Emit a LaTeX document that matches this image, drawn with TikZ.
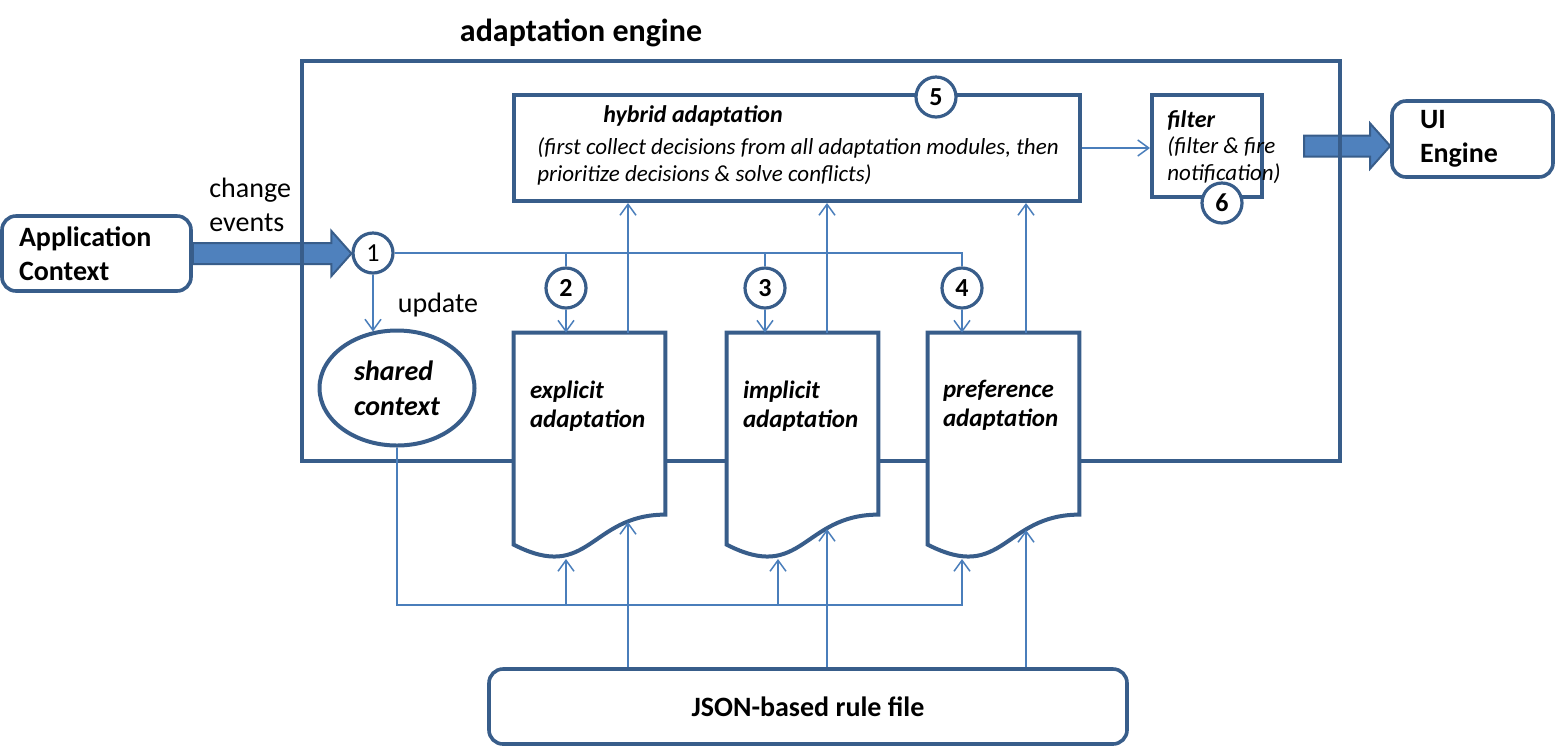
\documentclass[tikz,border=0pt]{standalone}
\usepackage{fontspec}
\setmainfont{Carlito}
\usetikzlibrary{arrows.meta,calc,shapes.geometric}

\definecolor{frameblue}{RGB}{56,93,138}
\definecolor{lineblue}{RGB}{74,126,187}
\definecolor{fillblue}{RGB}{79,129,189}

\tikzset{
	box/.style={draw=frameblue, line width=2pt, fill=white, inner sep=0pt},
	rbox/.style={box, line width=1.8pt, rounded corners=7pt},
	num/.style={circle, draw=frameblue, line width=1.6pt, fill=white, minimum size=20pt, inner sep=0pt, font=\fontsize{13pt}{15pt}\selectfont\bfseries},
	link/.style={draw=lineblue, line width=0.75pt, -{Straight Barb[length=5.5pt,width=8pt]}},
	wire/.style={draw=lineblue, line width=0.75pt},
	fat/.style={draw=frameblue, line width=1pt, fill=fillblue, line join=miter},
	docnode/.style={minimum width=75.5pt, minimum height=113.5pt, inner sep=0pt},
	big/.style={font=\fontsize{14pt}{17pt}\selectfont\bfseries},
	plain/.style={font=\fontsize{14pt}{17pt}\selectfont, inner sep=0pt},
	doctext/.style={font=\fontsize{12.5pt}{14.5pt}\selectfont\bfseries\itshape, align=left, inner sep=0pt},
	smalltext/.style={font=\fontsize{11.5pt}{13.5pt}\selectfont\itshape, align=left, inner sep=0pt},
	boxtitle/.style={font=\fontsize{12pt}{14pt}\selectfont\bfseries\itshape, inner sep=0pt}
}

\newcommand{\fatarrow}[2]{%
	\draw[fat] ($(#1)+(0,-10.5)$) -- ($(#2)+(-20,-10.5)$) -- ($(#2)+(-20,-22.5)$) -- (#2)
		-- ($(#2)+(-20,22.5)$) -- ($(#2)+(-20,10.5)$) -- ($(#1)+(0,10.5)$) -- cycle;}

\newcommand{\docpath}[1]{%
	\draw[box] (#1.north west) -- (#1.north east) -- ($(#1.north east)+(0,182)$)
		.. controls ($(#1.north)+(0,182)$) and ($(#1.north)+(0,251)$) .. ($(#1.north west)+(0,212)$) -- cycle;}

\begin{document}
\begin{tikzpicture}[x=0.5pt,y=-0.5pt]
	\useasboundingbox (0,0) rectangle (1557,746);

	\node[rbox, minimum width=94.5pt, minimum height=37.5pt, text width=77.5pt, align=left, big] (app) at (96.5,253.5) {Application\\Context};
	\node[rbox, minimum width=80.5pt, minimum height=38pt, text width=52.5pt, align=left, big] (ui) at (1472.5,139) {UI\\Engine};
	\node[box, minimum width=55pt, minimum height=51pt] (filter) at (1207,146) {};
	\node[num, font=\fontsize{13pt}{15pt}\selectfont] (n1) at (373,253) {1};

	\coordinate (tip1) at (n1.west |- app.east);
	\fatarrow{app.east}{tip1}
	\coordinate (tail2) at ($(filter.east)+(40,0)$);
	\coordinate (tip2) at (ui.west |- tail2);
	\fatarrow{tail2}{tip2}

	\draw[frameblue, line width=2pt] (302,61) rectangle (1340,461);
	\node[font=\fontsize{16pt}{19pt}\selectfont\bfseries] (title) at (581,33) {adaptation engine};
	\node[plain, anchor=west, align=left] (events) at (209,205) {change\\events};
	\node[plain] (upd) at (438,305) {update};

	\node[box, minimum width=283pt, minimum height=53pt] (hyb) at (797,148) {};
	\node[boxtitle, anchor=west] (hybtitle) at (603,116) {hybrid adaptation};
	\node[smalltext, anchor=west] (hybtext) at (537,161) {(first collect decisions from all adaptation modules, then\\prioritize decisions \& solve conflicts)};
	\node[num] (n5) at (936,97) {5};

	\node[boxtitle, anchor=west] (filtitle) at (1167,120) {filter};
	\node[smalltext, anchor=west] (filtext) at (1167,160) {(filter \& fire\\notification)};
	\node[num] (n6) at (1222,203) {6};
	\draw[link] (hyb.east) -- (filter.west |- hyb.east);

	\node[num] (n2) at (566,288) {2};
	\node[num] (n3) at (765,288) {3};
	\node[num] (n4) at (962,288) {4};
	\node[ellipse, box, minimum width=77.5pt, minimum height=57.5pt, align=left, font=\fontsize{14pt}{17.5pt}\selectfont\bfseries\itshape] (shared) at (397,388) {shared\\context};

	\draw[wire] (n1) -- (n4 |- n1) -- (n4);
	\draw[wire] (n2 |- n1) -- (n2);
	\draw[wire] (n3 |- n1) -- (n3);
	\draw[link] (n1) -- ($(n1 |- shared.north)+(0,3)$);

	\node[docnode] (expl) at (589.5,446.5) {};
	\node[docnode] (impl) at (802.5,446.5) {};
	\node[docnode] (pref) at (1003.5,446.5) {};
	\docpath{expl}
	\docpath{impl}
	\docpath{pref}
	\node[doctext, anchor=west] at ($(expl.north west)+(16,74)$) {explicit\\adaptation};
	\node[doctext, anchor=west] at ($(impl.north west)+(16,74)$) {implicit\\adaptation};
	\node[doctext, anchor=west] at ($(pref.north west)+(15,73)$) {preference\\adaptation};

	\draw[link] (n2) -- (n2 |- expl.north);
	\draw[link] (n3) -- (n3 |- impl.north);
	\draw[link] (n4) -- (n4 |- pref.north);

	\node[rbox, minimum width=319pt, minimum height=37.5pt, big] (json) at (808,706.5) {JSON-based rule file};

	\coordinate (w1) at (628,522);
	\coordinate (w2) at (827,529);
	\coordinate (w3) at (1026,530);
	\draw[link] (w1 |- expl.north) -- (w1 |- hyb.south);
	\draw[link] (w2 |- impl.north) -- (w2 |- hyb.south);
	\draw[link] (w3 |- pref.north) -- (w3 |- hyb.south);
	\draw[link] (w1 |- json.north) -- (w1);
	\draw[link] (w2 |- json.north) -- (w2);
	\draw[link] (w3 |- json.north) -- (w3);

	\coordinate (v1) at (566,559);
	\coordinate (v2) at (778,559);
	\coordinate (v3) at (962,559);
	\coordinate (loop) at (0,605);
	\draw[link] (shared) |- (v3 |- loop) -- (v3);
	\draw[link] (v1 |- loop) -- (v1);
	\draw[link] (v2 |- loop) -- (v2);
\end{tikzpicture}
\end{document}
